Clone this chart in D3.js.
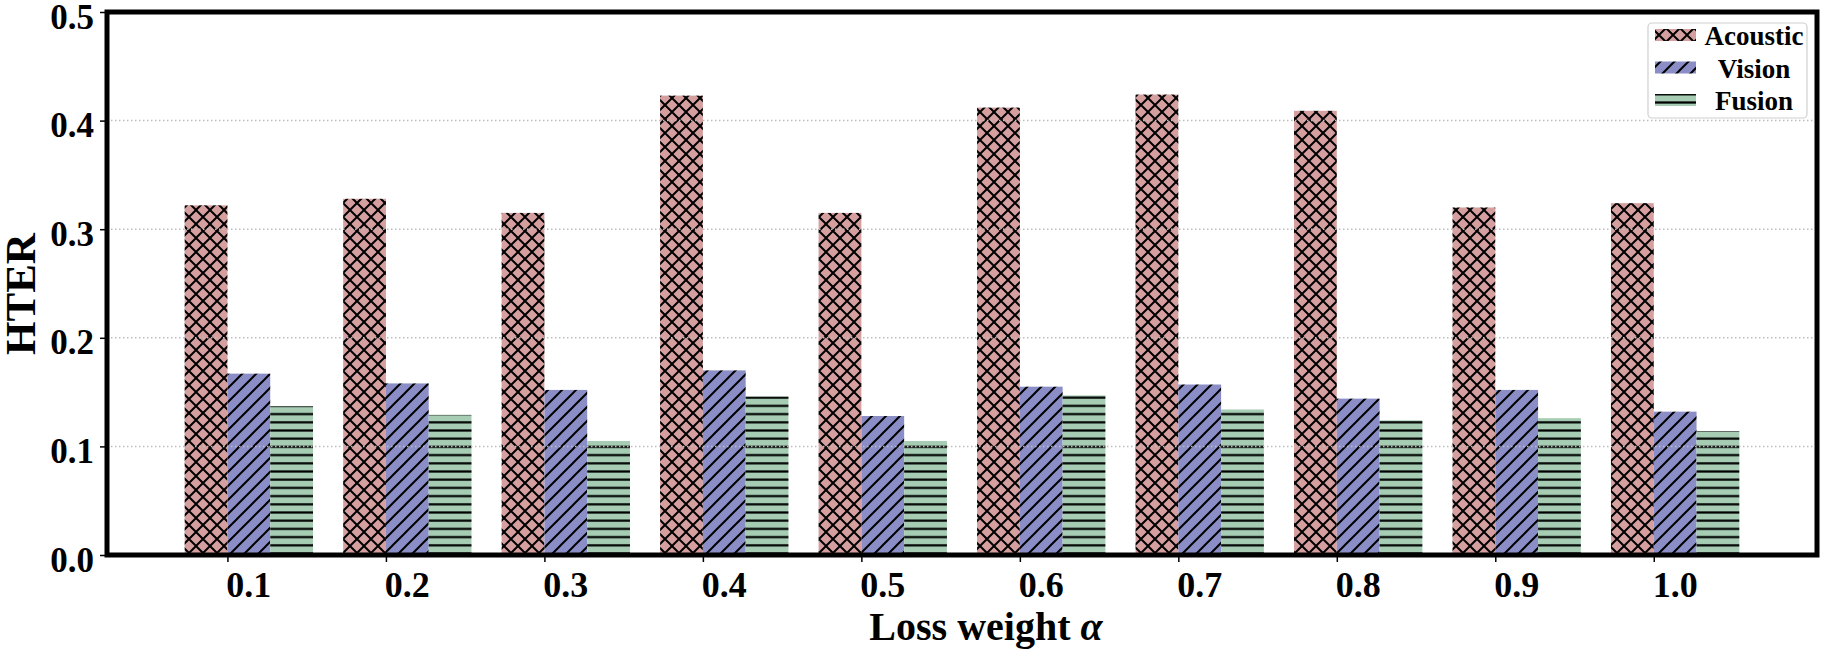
<!DOCTYPE html>
<html><head><meta charset="utf-8">
<script src="https://cdn.jsdelivr.net/npm/d3@7"></script>
<style>body{margin:0;background:#fff}svg{display:block}</style>
</head><body>
<svg id="c" width="1832" height="656"></svg>
<script>
const categories = ["0.1","0.2","0.3","0.4","0.5","0.6","0.7","0.8","0.9","1.0"];
const acoustic = [0.322,0.328,0.315,0.423,0.315,0.412,0.424,0.409,0.320,0.324];
const vision   = [0.167,0.158,0.152,0.170,0.128,0.155,0.157,0.144,0.152,0.132];
const fusion   = [0.137,0.129,0.105,0.146,0.105,0.147,0.134,0.124,0.126,0.114];
const seriesNames = ["Acoustic","Vision","Fusion"];
const yTicks = [0.0,0.1,0.2,0.3,0.4,0.5];

const colors = {Acoustic:"#d69f9f", Vision:"#8b8ec6", Fusion:"#a6cdb4"};
const FONT = "'Liberation Serif','Times New Roman',serif";
const svg = d3.select("#c");
const L = 107, R = 1817, T = 12, B = 555;
const bw = 0.27;
const x = d3.scaleLinear().domain([-0.76, 10.03]).range([L, R]);
const y = d3.scaleLinear().domain([0, 0.5]).range([B, T]);

const defs = svg.append("defs");
function pat(id, color, w, h, draw){
  const p = defs.append("pattern").attr("id", id).attr("patternUnits","userSpaceOnUse")
    .attr("width", w).attr("height", h);
  p.append("rect").attr("width", w).attr("height", h).attr("fill", color);
  draw(p, w, h);
}
const hs = 14;
pat("hA", colors.Acoustic, hs, hs, (p,w,h)=>{
  p.append("path")
   .attr("d",`M-1,-1L${w+1},${h+1}M${w+1},-1L-1,${h+1}`)
   .attr("stroke","#000").attr("stroke-width",2).attr("fill","none");
});
const vs = 14;
pat("hV", colors.Vision, vs, vs, (p,w,h)=>{
  p.append("path").attr("d",`M-1,${h+1}L${w+1},-1M${-w-1},${h+1}L1,-1M${w-1},${h+1}L${2*w+1},-1`)
   .attr("stroke","#000").attr("stroke-width",2).attr("fill","none");
});
pat("hF", colors.Fusion, 10, 8.2, (p,w,h)=>{
  p.append("line").attr("x1",0).attr("x2",w).attr("y1",h/2).attr("y2",h/2)
   .attr("stroke","#000").attr("stroke-width",2.2);
});
const fills = {Acoustic:"url(#hA)", Vision:"url(#hV)", Fusion:"url(#hF)"};

const rows = categories.map((c,i)=>({c, i, Acoustic:acoustic[i], Vision:vision[i], Fusion:fusion[i]}));
const offsets = {Acoustic:-bw, Vision:0, Fusion:bw};

seriesNames.forEach(s=>{
  svg.append("g").selectAll("rect").data(rows).join("rect")
    .attr("x", d=>x(d.i+offsets[s]))
    .attr("width", d=>x(d.i+offsets[s]+bw)-x(d.i+offsets[s]))
    .attr("y", d=>y(d[s]))
    .attr("height", d=>y(0)-y(d[s]))
    .attr("fill", fills[s]);
});

// grid (on top of bars)
svg.append("g").selectAll("line").data(yTicks.filter(v=>v>0&&v<0.5)).join("line")
  .attr("x1",L).attr("x2",R).attr("y1",d=>y(d)).attr("y2",d=>y(d))
  .attr("stroke","#bdbdbd").attr("stroke-width",1.5).attr("stroke-dasharray","1.5,2.5");

// y axis
const yAxis = d3.axisLeft(y).tickValues(yTicks).tickFormat(d3.format(".1f")).tickSize(7).tickPadding(4);
const gy = svg.append("g").attr("transform",`translate(${L},0)`).call(yAxis);
gy.select(".domain").remove();
gy.selectAll(".tick line").attr("stroke","#000").attr("stroke-width",1.5);
gy.selectAll(".tick text").attr("font-family",FONT).attr("font-weight","bold").attr("font-size",35)
  .attr("fill","#000").attr("dy",null).attr("y",16).attr("x",-13);

// x axis ticks
const xAxis = d3.axisBottom(x).tickValues(d3.range(categories.length)).tickFormat("").tickSize(7);
const gx = svg.append("g").attr("transform",`translate(0,${B})`).call(xAxis);
gx.select(".domain").remove();
gx.selectAll(".tick line").attr("stroke","#000").attr("stroke-width",1.5);
svg.append("g").selectAll("text").data(rows).join("text")
  .attr("x", d=>x(d.i+bw/2)).attr("y",597).attr("text-anchor","middle")
  .attr("font-family",FONT).attr("font-weight","bold").attr("font-size",36).text(d=>d.c);

// frame
svg.append("rect").attr("x",L).attr("y",T).attr("width",R-L).attr("height",B-T)
  .attr("fill","none").attr("stroke","#000").attr("stroke-width",5);

// axis titles
const xt = svg.append("text").attr("x",986).attr("y",640).attr("text-anchor","middle")
  .attr("font-family",FONT).attr("font-weight","bold").attr("font-size",40);
xt.append("tspan").text("Loss weight ");
xt.append("tspan").attr("font-style","italic").text("α");
svg.append("text").attr("transform","translate(35,294) rotate(-90)").attr("text-anchor","middle")
  .attr("font-family",FONT).attr("font-weight","bold").attr("font-size",43).text("HTER");

// legend
const lg = svg.append("g");
lg.append("rect").attr("x",1648).attr("y",23).attr("width",159).attr("height",95).attr("rx",4)
  .attr("fill","#fff").attr("fill-opacity",0.9).attr("stroke","#d0d0d0").attr("stroke-width",1.2);
seriesNames.forEach((s,k)=>{
  const base = 45 + k*32.5;
  lg.append("rect").attr("x",1655).attr("y",base-16).attr("width",41).attr("height",12).attr("fill",fills[s]);
  lg.append("text").attr("x",1754).attr("y",base).attr("text-anchor","middle")
    .attr("font-family",FONT).attr("font-weight","bold").attr("font-size",27).text(s);
});
</script>
</body></html>
